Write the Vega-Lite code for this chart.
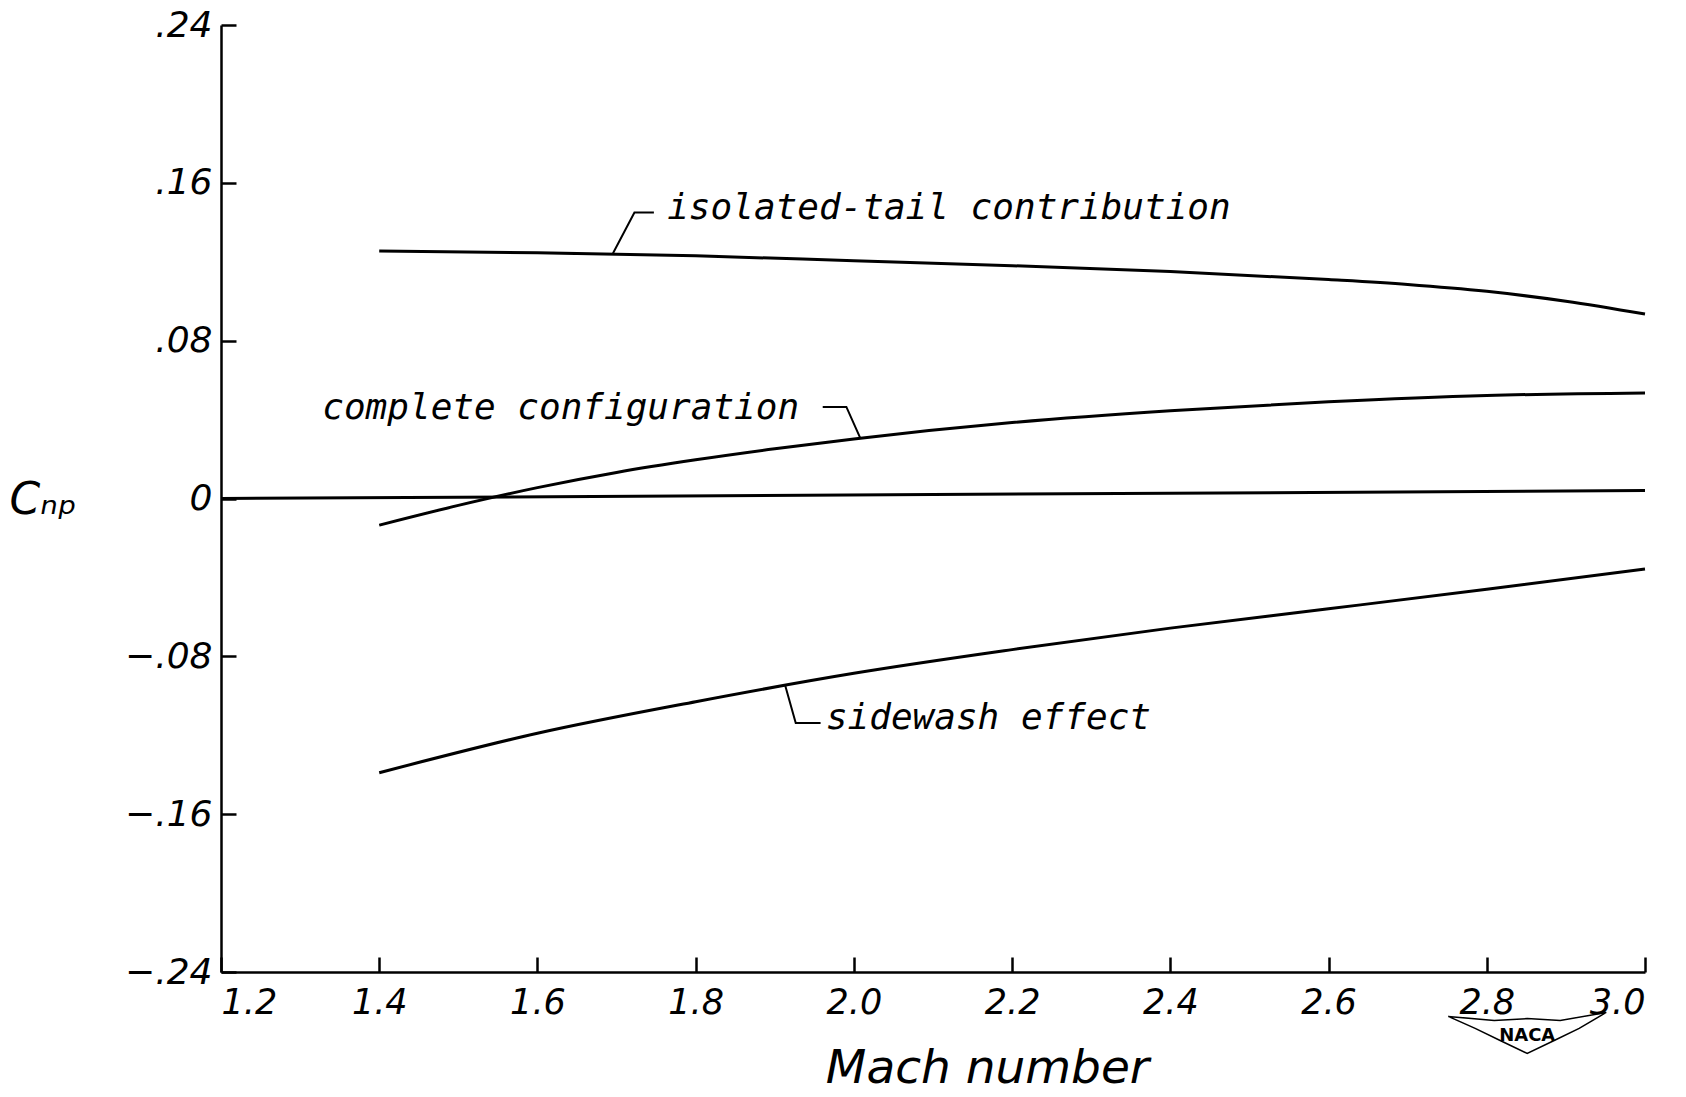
{
  "$schema": "https://vega.github.io/schema/vega-lite/v6.json",
  "width": 1424,
  "height": 947,
  "autosize": "none",
  "padding": {"left": 221, "top": 25, "right": 41, "bottom": 125},
  "background": "white",
  "config": {
    "view": {"stroke": null},
    "font": "DejaVu Sans",
    "axis": {"grid": false, "domainColor": "black", "domainWidth": 2.5, "tickColor": "black", "tickWidth": 2.5, "labelColor": "black", "titleColor": "black", "labelFont": "DejaVu Sans", "titleFont": "DejaVu Sans", "labelFontStyle": "italic", "titleFontStyle": "italic", "labelFontWeight": "normal", "titleFontWeight": "normal"}
  },
  "datasets": {
    "curves": [
      {"series": "isolated-tail contribution", "mach": 1.4, "cnp": 0.1255},
      {"series": "isolated-tail contribution", "mach": 1.6, "cnp": 0.1245},
      {"series": "isolated-tail contribution", "mach": 1.8, "cnp": 0.123},
      {"series": "isolated-tail contribution", "mach": 2.0, "cnp": 0.1205},
      {"series": "isolated-tail contribution", "mach": 2.2, "cnp": 0.118},
      {"series": "isolated-tail contribution", "mach": 2.4, "cnp": 0.115},
      {"series": "isolated-tail contribution", "mach": 2.6, "cnp": 0.111},
      {"series": "isolated-tail contribution", "mach": 2.7, "cnp": 0.1085},
      {"series": "isolated-tail contribution", "mach": 2.8, "cnp": 0.105},
      {"series": "isolated-tail contribution", "mach": 2.9, "cnp": 0.1},
      {"series": "isolated-tail contribution", "mach": 3.0, "cnp": 0.0935},
      {"series": "complete configuration", "mach": 1.4, "cnp": -0.0135},
      {"series": "complete configuration", "mach": 1.5, "cnp": -0.0035},
      {"series": "complete configuration", "mach": 1.6, "cnp": 0.0055},
      {"series": "complete configuration", "mach": 1.7, "cnp": 0.0132},
      {"series": "complete configuration", "mach": 1.8, "cnp": 0.0196},
      {"series": "complete configuration", "mach": 1.9, "cnp": 0.0252},
      {"series": "complete configuration", "mach": 2.0, "cnp": 0.0302},
      {"series": "complete configuration", "mach": 2.2, "cnp": 0.0385},
      {"series": "complete configuration", "mach": 2.4, "cnp": 0.0445},
      {"series": "complete configuration", "mach": 2.6, "cnp": 0.049},
      {"series": "complete configuration", "mach": 2.8, "cnp": 0.0522},
      {"series": "complete configuration", "mach": 3.0, "cnp": 0.0535},
      {"series": "sidewash effect", "mach": 1.4, "cnp": -0.139},
      {"series": "sidewash effect", "mach": 1.6, "cnp": -0.119},
      {"series": "sidewash effect", "mach": 1.8, "cnp": -0.103},
      {"series": "sidewash effect", "mach": 2.0, "cnp": -0.0886},
      {"series": "sidewash effect", "mach": 2.2, "cnp": -0.0766},
      {"series": "sidewash effect", "mach": 2.4, "cnp": -0.0657},
      {"series": "sidewash effect", "mach": 2.6, "cnp": -0.0559},
      {"series": "sidewash effect", "mach": 2.8, "cnp": -0.046},
      {"series": "sidewash effect", "mach": 3.0, "cnp": -0.0357},
      {"series": "zero", "mach": 1.2, "cnp": 0.0},
      {"series": "zero", "mach": 3.0, "cnp": 0.004}
    ],
    "leaders": [
      {"leader": "isolated", "i": 0, "mach": 1.6955, "cnp": 0.1243},
      {"leader": "isolated", "i": 1, "mach": 1.7226, "cnp": 0.145},
      {"leader": "isolated", "i": 2, "mach": 1.7472, "cnp": 0.145},
      {"leader": "complete", "i": 0, "mach": 1.9606, "cnp": 0.0464},
      {"leader": "complete", "i": 1, "mach": 1.9905, "cnp": 0.0464},
      {"leader": "complete", "i": 2, "mach": 2.0081, "cnp": 0.0306},
      {"leader": "sidewash", "i": 0, "mach": 1.913, "cnp": -0.0945},
      {"leader": "sidewash", "i": 1, "mach": 1.9265, "cnp": -0.1138},
      {"leader": "sidewash", "i": 2, "mach": 1.9579, "cnp": -0.1138}
    ],
    "labels": [
      {"text": "isolated-tail contribution", "mach": 1.764, "cnp": 0.1418},
      {"text": "complete configuration", "mach": 1.328, "cnp": 0.0404},
      {"text": "sidewash effect", "mach": 1.9646, "cnp": -0.1166}
    ],
    "logo": [
      {"i": 0, "mach": 2.7512, "cnp": -0.2625},
      {"i": 1, "mach": 2.7853, "cnp": -0.2686},
      {"i": 2, "mach": 2.8169, "cnp": -0.2747},
      {"i": 3, "mach": 2.8511, "cnp": -0.2813},
      {"i": 4, "mach": 2.8852, "cnp": -0.2747},
      {"i": 5, "mach": 2.9168, "cnp": -0.2686},
      {"i": 6, "mach": 2.951, "cnp": -0.2605},
      {"i": 7, "mach": 2.8928, "cnp": -0.2646},
      {"i": 8, "mach": 2.8511, "cnp": -0.2636},
      {"i": 9, "mach": 2.8094, "cnp": -0.2646},
      {"i": 10, "mach": 2.7512, "cnp": -0.2625}
    ],
    "logotext": [
      {"text": "NACA", "mach": 2.8511, "cnp": -0.2725}
    ]
  },
  "layer": [
    {
      "data": {"name": "curves"},
      "mark": {"type": "line", "color": "black", "strokeWidth": 3, "interpolate": "monotone", "clip": false},
      "encoding": {
        "x": {
          "field": "mach", "type": "quantitative",
          "scale": {"domain": [1.2, 3.0], "nice": false, "zero": false},
          "axis": {"values": [1.2, 1.4, 1.6, 1.8, 2.0, 2.2, 2.4, 2.6, 2.8, 3.0], "format": ".1f", "tickSize": -15, "labelPadding": 28, "labelFontSize": 35, "title": "Mach number", "titleFontSize": 47, "titleX": 766, "titleY": 110, "titleAlign": "center", "titleBaseline": "alphabetic"}
        },
        "y": {
          "field": "cnp", "type": "quantitative",
          "scale": {"domain": [-0.24, 0.24], "nice": false, "zero": false},
          "axis": {"values": [-0.24, -0.16, -0.08, 0, 0.08, 0.16, 0.24], "labelExpr": "datum.value == 0 ? '0' : replace(format(datum.value, '.2f'), '0.', '.')", "tickSize": -15, "labelPadding": 24, "labelFontSize": 36, "title": "Cₙₚ", "titleFontSize": 44, "titleAngle": 0, "titleX": -212, "titleY": 475, "titleAlign": "left", "titleBaseline": "middle"}
        },
        "detail": {"field": "series"}
      }
    },
    {
      "data": {"name": "leaders"},
      "mark": {"type": "line", "color": "black", "strokeWidth": 2},
      "encoding": {
        "x": {"field": "mach", "type": "quantitative"},
        "y": {"field": "cnp", "type": "quantitative"},
        "detail": {"field": "leader"},
        "order": {"field": "i"}
      }
    },
    {
      "data": {"name": "labels"},
      "mark": {"type": "text", "align": "left", "baseline": "alphabetic", "fontSize": 36, "fontStyle": "italic", "font": "DejaVu Sans Mono", "color": "black"},
      "encoding": {
        "x": {"field": "mach", "type": "quantitative"},
        "y": {"field": "cnp", "type": "quantitative"},
        "text": {"field": "text"}
      }
    },
    {
      "data": {"name": "logo"},
      "mark": {"type": "line", "color": "black", "strokeWidth": 1.5, "clip": false},
      "encoding": {
        "x": {"field": "mach", "type": "quantitative"},
        "y": {"field": "cnp", "type": "quantitative"},
        "order": {"field": "i"}
      }
    },
    {
      "data": {"name": "logotext"},
      "mark": {"type": "text", "align": "center", "baseline": "middle", "fontSize": 18, "fontWeight": "bold", "font": "DejaVu Sans", "color": "black", "clip": false},
      "encoding": {
        "x": {"field": "mach", "type": "quantitative"},
        "y": {"field": "cnp", "type": "quantitative"},
        "text": {"field": "text"}
      }
    }
  ]
}
